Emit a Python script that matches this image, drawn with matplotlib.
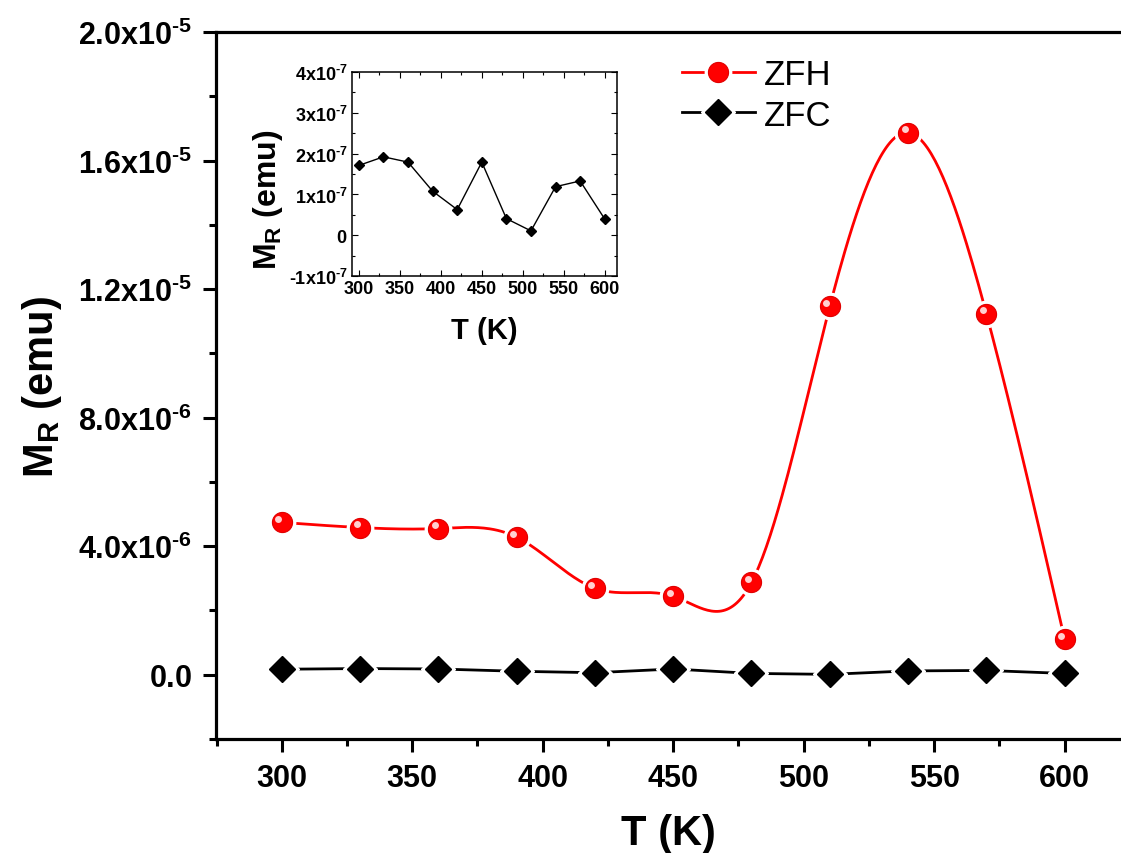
import numpy as np
import matplotlib
matplotlib.use('Agg')
import matplotlib.pyplot as plt
from matplotlib.lines import Line2D
from matplotlib.legend_handler import HandlerTuple
from matplotlib.transforms import ScaledTranslation

plt.rcParams['font.family'] = ['Liberation Sans', 'DejaVu Sans']
plt.rcParams['mathtext.fontset'] = 'custom'
plt.rcParams['mathtext.rm'] = 'Liberation Sans:bold'
plt.rcParams['mathtext.bf'] = 'Liberation Sans:bold'
plt.rcParams['mathtext.it'] = 'Liberation Sans:italic'

# data
T = [300, 330, 360, 390, 420, 450, 480, 510, 540, 570, 600]
zfh = [4.74e-6, 4.58e-6, 4.55e-6, 4.28e-6, 2.69e-6, 2.44e-6, 2.87e-6,
       11.46e-6, 16.87e-6, 11.24e-6, 1.10e-6]
zfc = [1.71e-7, 1.92e-7, 1.79e-7, 1.08e-7, 0.63e-7, 1.79e-7, 0.41e-7,
       0.11e-7, 1.19e-7, 1.33e-7, 0.40e-7]

main_yticks = [0, 4e-6, 8e-6, 1.2e-5, 1.6e-5, 2.0e-5]
main_ylabels = [r'$\mathbf{0.0}$', r'$\mathbf{4.0x10^{\text{-}6}}$', r'$\mathbf{8.0x10^{\text{-}6}}$',
                r'$\mathbf{1.2x10^{\text{-}5}}$', r'$\mathbf{1.6x10^{\text{-}5}}$',
                r'$\mathbf{2.0x10^{\text{-}5}}$']
ins_yticks = [-1e-7, 0, 1e-7, 2e-7, 3e-7, 4e-7]
ins_ylabels = [r'$\mathbf{\text{-}1x10^{\text{-}7}}$', r'$\mathbf{0}$', r'$\mathbf{1x10^{\text{-}7}}$',
               r'$\mathbf{2x10^{\text{-}7}}$', r'$\mathbf{3x10^{\text{-}7}}$',
               r'$\mathbf{4x10^{\text{-}7}}$']
xticks = [300, 350, 400, 450, 500, 550, 600]


def spline_line(x, y, n=400):
    # natural cubic spline used only to draw the connecting curve
    x = np.asarray(x, float)
    y = np.asarray(y, float)
    m = len(x)
    h = np.diff(x)
    A = np.zeros((m, m))
    b = np.zeros(m)
    A[0, 0] = A[-1, -1] = 1
    for i in range(1, m - 1):
        A[i, i - 1] = h[i - 1]
        A[i, i] = 2 * (h[i - 1] + h[i])
        A[i, i + 1] = h[i]
        b[i] = 3 * ((y[i + 1] - y[i]) / h[i] - (y[i] - y[i - 1]) / h[i - 1])
    c = np.linalg.solve(A, b)
    xs = np.linspace(x[0], x[-1], n)
    idx = np.clip(np.searchsorted(x, xs) - 1, 0, m - 2)
    dx = xs - x[idx]
    bb = (y[idx + 1] - y[idx]) / h[idx] - h[idx] * (2 * c[idx] + c[idx + 1]) / 3
    dd = (c[idx + 1] - c[idx]) / (3 * h[idx])
    ys = y[idx] + bb * dx + c[idx] * dx ** 2 + dd * dx ** 3
    return xs, ys


fig = plt.figure(figsize=(11.21, 8.54), dpi=100)
ax = fig.add_axes([216 / 1121, 1 - 740 / 854, 1 - 216 / 1121, (740 - 33) / 854])

# ZFC
ax.plot(T, zfc, color='black', lw=2, zorder=2)
ax.plot(T, zfc, 'D', ms=17, color='white', zorder=3)
ax.plot(T, zfc, 'D', ms=13.5, color='black', zorder=4)

# ZFH
xs, ys = spline_line(T, zfh)
ax.plot(xs, ys, color='#ff0000', lw=2, zorder=2)
ax.plot(T, zfh, 'o', ms=19, color='white', zorder=3)
ax.plot(T, zfh, 'o', ms=14.5, color='#ff0000', mec='#e00000', mew=0.8, zorder=4)
hl = ax.transData + ScaledTranslation(-2.5 / 72, 2.5 / 72, fig.dpi_scale_trans)
ax.plot(T, zfh, 'o', ms=5, color='#ffd0d0', mew=0, transform=hl, zorder=5)

ax.set_xlim(274.8, 621.6)
ax.set_ylim(-2e-6, 2e-5)
ax.set_xticks(xticks)
ax.set_xticks(np.arange(275, 625, 25), minor=True)
ax.set_yticks(main_yticks)
ax.set_yticklabels(main_ylabels)
ax.set_yticks(np.arange(-2e-6, 2.1e-5, 2e-6), minor=True)
ax.spines['right'].set_visible(False)
for s in ['left', 'bottom', 'top']:
    ax.spines[s].set_linewidth(2.3)
ax.tick_params(which='major', direction='out', length=9.5, width=2.2, labelsize=22, pad=8)
ax.tick_params(which='minor', direction='out', length=5, width=2.2)
ax.tick_params(top=False, right=False, which='both')
for lab in ax.get_xticklabels():
    lab.set_fontweight('bold')
ax.set_xlabel('T (K)', fontsize=30, fontweight='bold', labelpad=14)
ax.set_ylabel(r'$\mathbf{M_R}$ (emu)', fontsize=30, fontweight='bold', labelpad=10)

# legend
h1 = (Line2D([], [], color='#ff0000', lw=2, marker='o', ms=19, mfc='white', mec='white'),
      Line2D([], [], ls='none', marker='o', ms=14.5, color='#ff0000', mec='#e00000', mew=0.8))
h2 = (Line2D([], [], color='black', lw=2, marker='D', ms=17, mfc='white', mec='white'),
      Line2D([], [], ls='none', marker='D', ms=13.5, color='black'))
ax.legend([h1, h2], ['ZFH', 'ZFC'], handler_map={tuple: HandlerTuple(ndivide=1)},
          loc='upper left', bbox_to_anchor=(682 / 1121, 1 - 59 / 854),
          bbox_transform=fig.transFigure, frameon=False, fontsize=25,
          handlelength=2.1, handletextpad=0.25, borderpad=0, borderaxespad=0,
          labelspacing=0.22)

# inset
ins = fig.add_axes([351.5 / 1121, 1 - 277.3 / 854, (617 - 351.5) / 1121, (277.3 - 72.7) / 854])
ins.plot(T, zfc, color='black', lw=1, marker='D', ms=5.5)
ins.set_xlim(291, 615)
ins.set_ylim(-1e-7, 4e-7)
ins.set_xticks(xticks)
ins.set_xticks(np.arange(325, 625, 50), minor=True)
ins.set_yticks(ins_yticks)
ins.set_yticklabels(ins_ylabels)
ins.set_yticks(np.arange(-0.5e-7, 4e-7, 1e-7), minor=True)
for s in ins.spines.values():
    s.set_linewidth(1.1)
ins.tick_params(which='both', direction='in', top=True, right=True, width=0.8)
ins.tick_params(which='major', length=4, labelsize=13, pad=3)
ins.tick_params(which='minor', length=2.5)
for lab in ins.get_xticklabels():
    lab.set_fontweight('bold')
ins.set_xlabel('T (K)', fontsize=21, fontweight='bold')
ins.xaxis.set_label_coords(0.5, -0.195)
ins.set_ylabel(r'$\mathbf{M_R}$ (emu)', fontsize=23, fontweight='bold')
ins.yaxis.set_label_coords(-0.25, 0.38)

fig.savefig('out.png', dpi=100)
